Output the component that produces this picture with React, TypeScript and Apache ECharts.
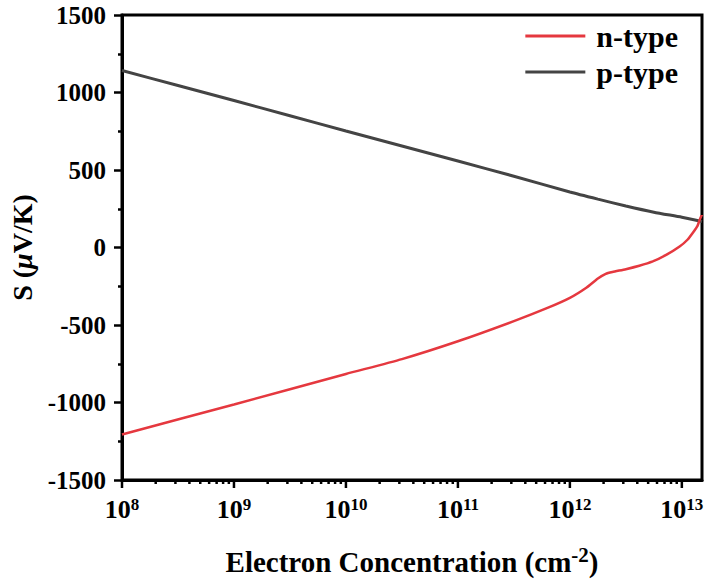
import React, { useEffect, useRef } from "react";
import * as echarts from "echarts";

// x values are log10(electron concentration, cm^-2)
const nTypeLogN = [8, 9, 10, 10.5, 11, 11.5, 11.8, 12, 12.15, 12.25, 12.32, 12.38, 12.5, 12.62, 12.74, 12.86, 12.98, 13.05, 13.1, 13.14, 13.16, 13.18];
const nTypeS = [-1206, -1013, -816, -720, -605, -475, -390, -325, -258, -200, -170, -158, -140, -118, -90, -48, 6, 50, 97, 140, 180, 213];

const pTypeLogN = [8, 8.5, 9, 9.5, 10, 10.5, 11, 11.5, 12, 12.25, 12.5, 12.75, 13, 13.18];
const pTypeS = [1142, 1045, 948, 850, 752, 655, 558, 460, 358, 312, 268, 228, 195, 168];

const xMajorTicks = [8, 9, 10, 11, 12, 13];
const xMinorMultipliers = [2, 3, 4, 5, 6, 7, 8, 9];
const xMinorTicks: number[] = [];
for (let d = 8; d <= 12; d++) {
  for (const k of xMinorMultipliers) xMinorTicks.push(d + Math.log10(k));
}

const X_MIN = 8;
const X_MAX = 13.18;
const Y_MIN = -1500;
const Y_MAX = 1500;

const FONT = "Times New Roman, Liberation Serif, DejaVu Serif, serif";

export default function App() {
  const ref = useRef<HTMLDivElement>(null);
  useEffect(() => {
    if (!ref.current) return;
    const chart = echarts.init(ref.current, null, { renderer: "svg" });
    const tickData = [
      ...xMajorTicks.map((v) => [v, 8]),
      ...xMinorTicks.map((v) => [v, 4]),
    ];
    chart.setOption({
      animation: false,
      backgroundColor: "#fff",
      textStyle: { fontFamily: FONT },
      grid: {
        left: 122,
        right: 8,
        top: 15,
        bottom: 105,
        show: true,
        borderColor: "#000",
        borderWidth: 3,
      },
      legend: {
        data: [
          { name: "n-type", icon: "rect" },
          { name: "p-type", icon: "rect" },
        ],
        orient: "vertical",
        right: 27,
        top: 16,
        itemWidth: 60,
        itemHeight: 3,
        itemGap: 6,
        textStyle: {
          fontFamily: FONT,
          fontWeight: "bold",
          fontSize: 30,
          lineHeight: 30,
          color: "#000",
          padding: [0, 0, 0, 6],
        },
      },
      xAxis: {
        type: "value",
        min: X_MIN,
        max: X_MAX,
        interval: 1,
        splitLine: { show: false },
        axisLine: { show: true, onZero: false, lineStyle: { color: "#000", width: 3 } },
        axisTick: { show: false },
        axisLabel: {
          margin: 16,
          formatter: (v: number) => {
            const r = Math.round(v);
            if (Math.abs(v - r) > 1e-6) return "";
            return `{b|10}{s|${r}}`;
          },
          rich: {
            b: { fontFamily: FONT, fontWeight: "bold", fontSize: 26, color: "#000" },
            s: { fontFamily: FONT, fontWeight: "bold", fontSize: 17, color: "#000", verticalAlign: "top" },
          },
        },
        name: "{b|Electron Concentration (cm}{s|-2}{b|)}",
        nameLocation: "middle",
        nameGap: 64,
        nameTextStyle: {
          rich: {
            b: { fontFamily: FONT, fontWeight: "bold", fontSize: 29, color: "#000", lineHeight: 36 },
            s: { fontFamily: FONT, fontWeight: "bold", fontSize: 21, color: "#000", verticalAlign: "top" },
          },
        },
      },
      yAxis: {
        type: "value",
        min: Y_MIN,
        max: Y_MAX,
        interval: 500,
        splitLine: { show: false },
        axisLine: { show: true, onZero: false, lineStyle: { color: "#000", width: 3 } },
        axisTick: { show: true, length: 8, lineStyle: { color: "#000", width: 2.5 } },
        minorTick: { show: true, splitNumber: 2, length: 4, lineStyle: { color: "#000", width: 2.5 } },
        axisLabel: {
          margin: 16,
          fontFamily: FONT,
          fontWeight: "bold",
          fontSize: 25,
          color: "#000",
          formatter: (v: number) => String(v),
        },
        name: "{b|S (}{i|μ}{b|V/K)}",
        nameLocation: "middle",
        nameRotate: 90,
        nameGap: 80,
        nameTextStyle: {
          rich: {
            b: { fontFamily: FONT, fontWeight: "bold", fontSize: 28, color: "#000" },
            i: { fontFamily: FONT, fontWeight: "bold", fontStyle: "italic", fontSize: 28, color: "#000" },
          },
        },
      },
      series: [
        {
          name: "n-type",
          type: "line",
          data: nTypeLogN.map((x, i) => [x, nTypeS[i]]),
          symbol: "none",
          smooth: 0.2,
          lineStyle: { color: "#e5383f", width: 2.5 },
          itemStyle: { color: "#e5383f" },
          z: 3,
        },
        {
          name: "p-type",
          type: "line",
          data: pTypeLogN.map((x, i) => [x, pTypeS[i]]),
          symbol: "none",
          smooth: 0.2,
          lineStyle: { color: "#444444", width: 3 },
          itemStyle: { color: "#444444" },
          z: 2,
        },
        {
          name: "xticks",
          type: "custom",
          silent: true,
          clip: false,
          data: tickData,
          renderItem: (_params: any, api: any) => {
            const x = api.value(0);
            const len = api.value(1);
            const p = api.coord([x, Y_MIN]);
            return {
              type: "line",
              shape: { x1: p[0], y1: p[1], x2: p[0], y2: p[1] + len },
              style: { stroke: "#000", lineWidth: 2.5 },
            };
          },
          z: 5,
        },
      ],
    });
    return () => chart.dispose();
  }, []);
  return (
    <div
      ref={ref}
      style={{ position: "fixed", left: 0, top: 0, width: 710, height: 585 }}
    />
  );
}
